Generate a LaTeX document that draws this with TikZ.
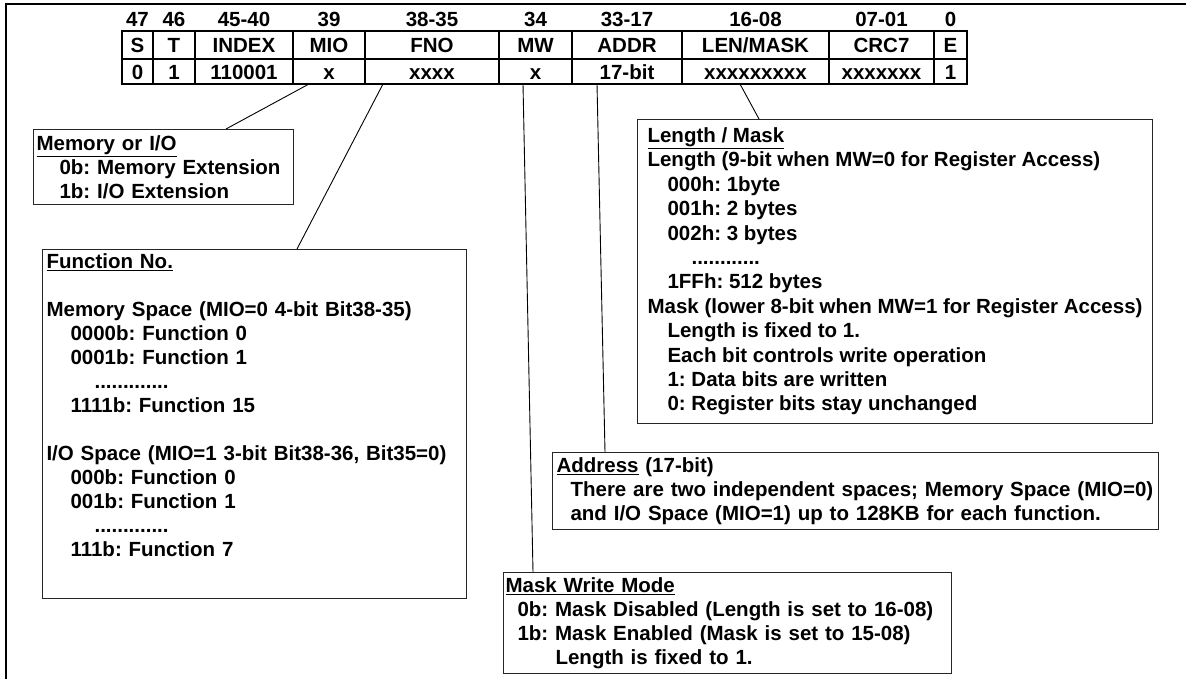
\documentclass[tikz,border=0pt]{standalone}
\usepackage{fontspec}
\setmainfont{Liberation Sans}
\usetikzlibrary{positioning}
\frenchspacing

\begin{document}
\begin{tikzpicture}[x=1pt,y=-1pt,
    every node/.style={font=\bfseries\fontsize{20.5}{24}\selectfont, inner sep=0pt},
    note/.style={draw=black!85, line width=1.1pt, anchor=north west, align=left, inner ysep=4pt}]
    \useasboundingbox (0,0) rectangle (1186,679);
    % frame (only top and left edges show)
    \draw[line width=2pt] (1186,4) -- (6,4) -- (6,679);

    % packet fields
    \foreach \l/\r/\bit/\fld/\val [count=\i] in {122/153/47/S/0, 153/195/46/T/1,
        195/293/45-40/INDEX/110001, 293/365/39/MIO/x, 365/499/38-35/FNO/xxxx,
        499/572/34/MW/x, 572/682/33-17/ADDR/17-bit, 682/829/16-08/{LEN/MASK}/xxxxxxxxx,
        829/934/07-01/CRC7/xxxxxxx, 934/967/0/E/1} {
      \node[anchor=base] (b\i) at ({(\l+\r)/2},27) {\bit};
      \node[anchor=base] (f\i) at ({(\l+\r)/2},53) {\fld};
      \node[anchor=base] (v\i) at ({(\l+\r)/2},80) {\val};
      \draw[line width=1.5pt] (\r,31) -- (\r,84);
    }
    \draw[line width=1.5pt] (122,59) -- (967,59);
    \draw[line width=2.5pt] (122,31) rectangle (967,84);

    \coordinate (mioB) at (309,84);
    \coordinate (fnoB) at (383,84);
    \coordinate (mwB) at (523,84);
    \coordinate (addrB) at (597,84);
    \coordinate (lenB) at (740,84);

    % notes
    \node[note, inner xsep=3pt, inner ysep=6pt, text width=254pt] (memo) at (33,129)
      {\underline{Memory or I/O}\\
       \hspace*{23pt}0b: Memory Extension\\
       \hspace*{23pt}1b: I/O Extension};
    \node[note, inner xsep=4pt, text width=416pt] (func) at (42,249)
      {\underline{Function No.}\\[24pt]
       Memory Space (MIO=0 4-bit Bit38-35)\\
       \hspace*{24pt}0000b: Function 0\\
       \hspace*{24pt}0001b: Function 1\\
       \hspace*{48pt}.............\\
       \hspace*{24pt}1111b: Function 15\\[24pt]
       I/O Space (MIO=1 3-bit Bit38-36, Bit35=0)\\
       \hspace*{24pt}000b: Function 0\\
       \hspace*{24pt}001b: Function 1\\
       \hspace*{48pt}.............\\
       \hspace*{24pt}111b: Function 7\\[14pt]\mbox{}};
    \node[note, inner xsep=10pt, inner ysep=8pt,
          font=\bfseries\fontsize{20.5}{24.4}\selectfont] (lenm) at (637,119)
      {\underline{Length / Mask}\\
       Length (9-bit when MW=0 for Register Access)\\
       \hspace*{20pt}000h: 1byte\\
       \hspace*{20pt}001h: 2 bytes\\
       \hspace*{20pt}002h: 3 bytes\\
       \hspace*{44pt}............\\
       \hspace*{20pt}1FFh: 512 bytes\\
       Mask (lower 8-bit when MW=1 for Register Access)\\
       \hspace*{20pt}Length is fixed to 1.\\
       \hspace*{20pt}Each bit controls write operation\\
       \hspace*{20pt}1: Data bits are written\\
       \hspace*{20pt}0: Register bits stay unchanged};
    \node[note, inner xsep=4pt, inner ysep=5pt, text width=598pt] (addr) at (552,452)
      {\underline{Address} (17-bit)\\
       \hspace*{14pt}There are two independent spaces; Memory Space (MIO=0)\\
       \hspace*{14pt}and I/O Space (MIO=1) up to 128KB for each function.};
    \node[note, inner xsep=2pt, inner ysep=5pt, text width=444pt] (mask) at (503,572)
      {\underline{Mask Write Mode}\\
       \hspace*{12pt}0b: Mask Disabled (Length is set to 16-08)\\
       \hspace*{12pt}1b: Mask Enabled (Mask is set to 15-08)\\
       \hspace*{50pt}Length is fixed to 1.};

    % callouts
    \draw[line width=0.9pt] (mioB) -- (226,0 |- memo.north);
    \draw[line width=0.9pt] (fnoB) -- (297,0 |- func.north);
    \draw[line width=0.9pt] (mwB) -- (533,0 |- mask.north);
    \draw[line width=0.9pt] (addrB) -- (605,0 |- addr.north);
    \draw[line width=0.9pt] (lenB) -- (759,0 |- lenm.north);
  \end{tikzpicture}
\end{document}
